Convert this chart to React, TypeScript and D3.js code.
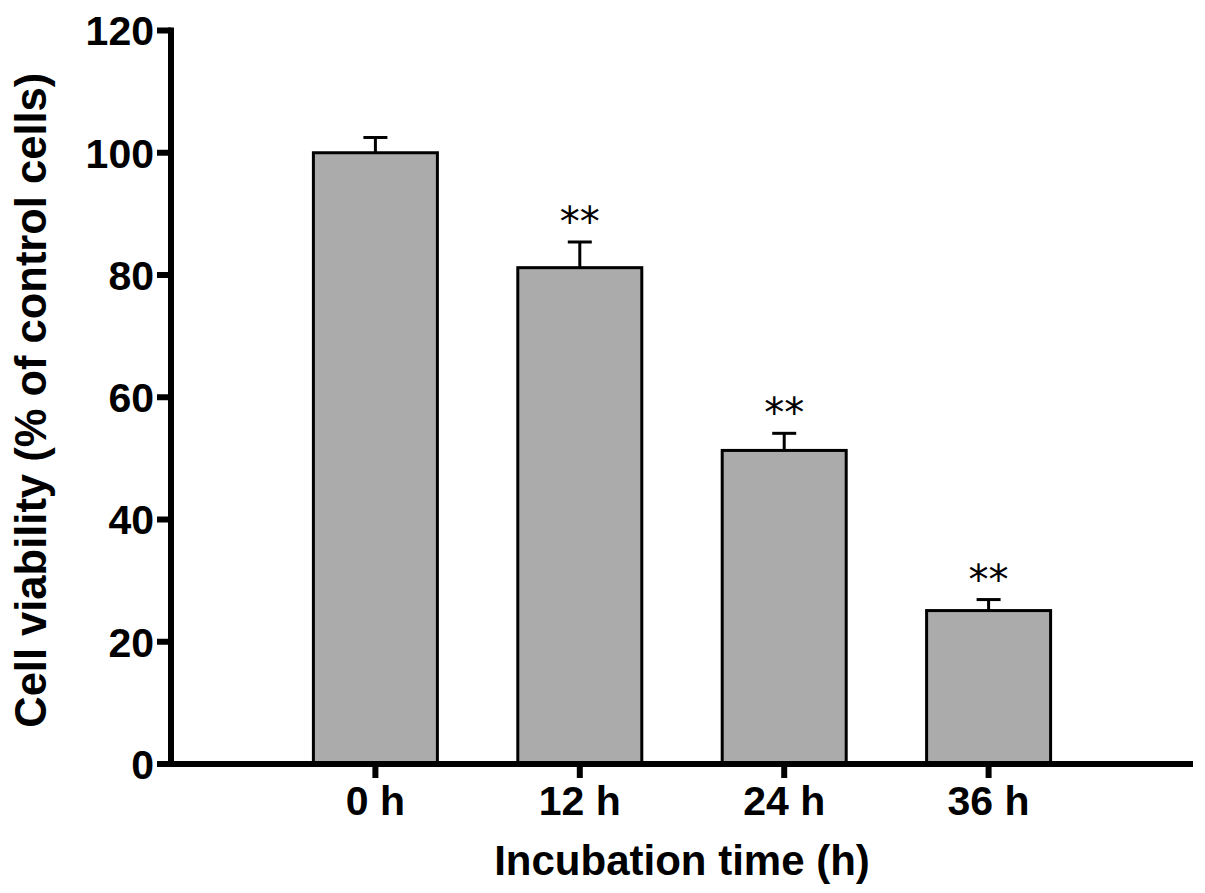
import React, { useRef, useEffect } from 'react';
import * as d3 from 'd3';

// chart data
const categories = ['0 h', '12 h', '24 h', '36 h'];
const viability = [100, 81.2, 51.3, 25.1];
const errors = [2.5, 4.2, 2.8, 1.8];
const significance = ['', '**', '**', '**'];
const yTicks = [0, 20, 40, 60, 80, 100, 120];

const WIDTH = 1205;
const HEIGHT = 893;

const App: React.FC = () => {
  const svgRef = useRef<SVGSVGElement | null>(null);

  useEffect(() => {
    if (!svgRef.current) return;
    const svg = d3.select(svgRef.current);
    svg.selectAll('*').remove();

    const axisX = 171;
    const axisRight = 1193;
    const axisY = 764;
    const font = 'Liberation Sans, Arial, sans-serif';

    const x = d3.scalePoint<string>()
      .domain(categories)
      .range([axisX, axisRight])
      .padding(1);

    const y = d3.scaleLinear()
      .domain([0, 120])
      .range([axisY, 30.5]);

    const barW = 124;
    const rows = categories.map((c, i) => ({
      cat: c,
      value: viability[i],
      err: errors[i],
      sig: significance[i],
    }));

    // Bars
    svg.append('g')
      .selectAll('rect')
      .data(rows)
      .enter()
      .append('rect')
      .attr('x', d => (x(d.cat) || 0) - barW / 2)
      .attr('y', d => y(d.value))
      .attr('width', barW)
      .attr('height', d => axisY - y(d.value))
      .attr('fill', '#ababab')
      .attr('stroke', '#000')
      .attr('stroke-width', 3);

    // Error bars (upper only)
    const eb = svg.append('g');
    rows.forEach(d => {
      const cx = x(d.cat) || 0;
      eb.append('line')
        .attr('x1', cx).attr('x2', cx)
        .attr('y1', y(d.value)).attr('y2', y(d.value + d.err))
        .attr('stroke', '#000').attr('stroke-width', 3);
      eb.append('line')
        .attr('x1', cx - 12).attr('x2', cx + 12)
        .attr('y1', y(d.value + d.err)).attr('y2', y(d.value + d.err))
        .attr('stroke', '#000').attr('stroke-width', 3);
    });

    // Significance marks
    svg.append('g')
      .selectAll('text')
      .data(rows.filter(d => d.sig))
      .enter()
      .append('text')
      .attr('x', d => x(d.cat) || 0)
      .attr('y', d => y(d.value + d.err) - 6)
      .attr('text-anchor', 'middle')
      .attr('font-family', 'DejaVu Sans, sans-serif')
      .attr('font-size', 40)
      .attr('fill', '#000')
      .text(d => d.sig);

    // Y axis
    svg.append('line')
      .attr('x1', axisX).attr('x2', axisX)
      .attr('y1', y(120) - 3).attr('y2', axisY + 3)
      .attr('stroke', '#000').attr('stroke-width', 6);

    const yt = svg.append('g');
    yTicks.forEach(t => {
      yt.append('line')
        .attr('x1', axisX - 14).attr('x2', axisX)
        .attr('y1', y(t)).attr('y2', y(t))
        .attr('stroke', '#000').attr('stroke-width', 6);
      yt.append('text')
        .attr('x', axisX - 17)
        .attr('y', y(t))
        .attr('dy', '0.36em')
        .attr('text-anchor', 'end')
        .attr('font-family', font)
        .attr('font-weight', 'bold')
        .attr('font-size', 41)
        .attr('fill', '#000')
        .text(t);
    });

    // X axis
    svg.append('line')
      .attr('x1', axisX - 14).attr('x2', axisRight)
      .attr('y1', axisY).attr('y2', axisY)
      .attr('stroke', '#000').attr('stroke-width', 6);

    const xt = svg.append('g');
    categories.forEach(c => {
      const cx = x(c) || 0;
      xt.append('line')
        .attr('x1', cx).attr('x2', cx)
        .attr('y1', axisY).attr('y2', axisY + 14)
        .attr('stroke', '#000').attr('stroke-width', 6);
      xt.append('text')
        .attr('x', cx)
        .attr('y', 815)
        .attr('text-anchor', 'middle')
        .attr('font-family', font)
        .attr('font-weight', 'bold')
        .attr('font-size', 41)
        .attr('fill', '#000')
        .text(c);
    });

    // Axis titles
    svg.append('text')
      .attr('x', (axisX + axisRight) / 2)
      .attr('y', 875)
      .attr('text-anchor', 'middle')
      .attr('font-family', font)
      .attr('font-weight', 'bold')
      .attr('font-size', 42)
      .attr('fill', '#000')
      .text('Incubation time (h)');

    svg.append('text')
      .attr('transform', `translate(46, ${(y(120) + axisY) / 2 + 3}) rotate(-90)`)
      .attr('text-anchor', 'middle')
      .attr('font-family', font)
      .attr('font-weight', 'bold')
      .attr('font-size', 43.5)
      .attr('fill', '#000')
      .text('Cell viability (% of control cells)');
  }, []);

  return (
    <svg
      ref={svgRef}
      width={WIDTH}
      height={HEIGHT}
      style={{ position: 'absolute', left: 0, top: 0, background: '#fff' }}
    />
  );
};

export default App;
